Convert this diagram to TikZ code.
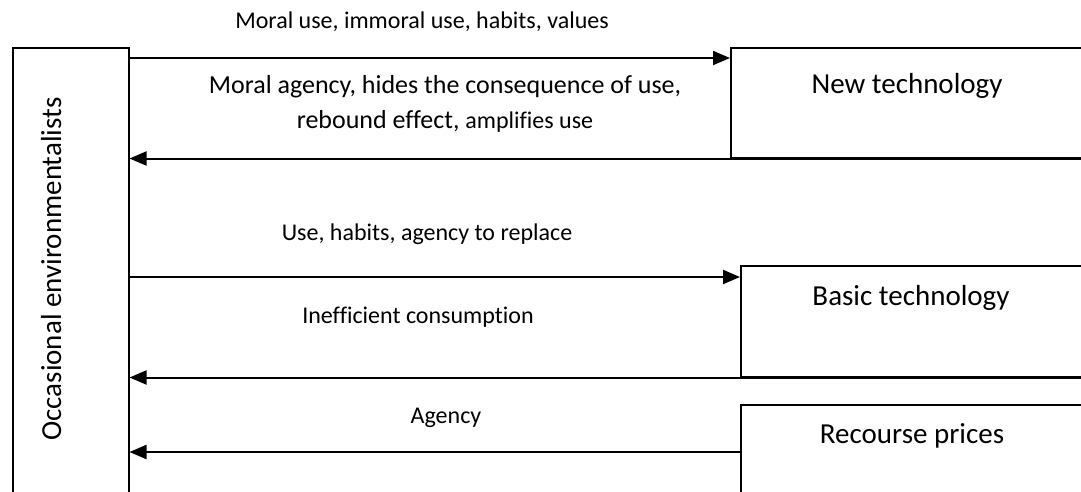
\documentclass[tikz,border=0pt]{standalone}
\usepackage{fontspec}
\setmainfont{Carlito}[Ligatures=NoCommon]
\usetikzlibrary{arrows.meta}

\begin{document}
\begin{tikzpicture}[x=1pt, y=-1pt,
        box/.style={rectangle, draw, line width=1.5pt, anchor=north west, inner sep=0pt},
        arrow/.style={-{Triangle[length=17pt, width=14pt]}, line width=2pt},
        small/.style={font=\fontsize{24}{28}\selectfont, inner sep=0pt, anchor=base},
        big/.style={font=\fontsize{26}{35}\selectfont, inner sep=0pt, anchor=base},
        boxtext/.style={font=\fontsize{29}{34}\selectfont, inner sep=0pt, anchor=base}
    ]
        \useasboundingbox (0,0) rectangle (1081,491);
        \clip (0,0) rectangle (1081,491);

        \node[box, minimum width=116pt, minimum height=500pt] (env) at (12,47) {};
        \node[boxtext, rotate=90] (envtext) at (61,269) {Occasional environmentalists};

        \node[box, minimum width=355pt, minimum height=110pt] (newtech) at (730,47) {};
        \node[box, minimum width=345pt, minimum height=111pt] (basic) at (740,265) {};
        \node[box, minimum width=345pt, minimum height=150pt] (prices) at (740,404) {};

        \node[boxtext] (newtechtext) at (907,93) {New technology};
        \node[boxtext] (basictext) at (911,305) {Basic technology};
        \node[boxtext] (pricestext) at (912,443) {Recourse prices};

        \draw[arrow] ([yshift=-11pt]env.north east) -- ([yshift=-11pt]newtech.north west);
        \draw[arrow] (newtech.south east) -- (newtech.south -| env.east);
        \draw[arrow] ([yshift=-12pt]basic.north -| env.east) -- ([yshift=-12pt]basic.north west);
        \draw[arrow] (basic.south east) -- (basic.south -| env.east);
        \draw[arrow] ([yshift=-48pt]prices.north west) -- ([yshift=-48pt]prices.north -| env.east);

        \node[small] (usevalues) at (422,28) {Moral use, immoral use, habits, values};
        \node[big] (agency1) at (445,93) {Moral agency, hides the consequence of use,};
        \node[big] (agency2) at (445,128) {rebound effect, {\fontsize{24}{28}\selectfont amplifies use}};
        \node[small] (replace) at (427,240) {Use, habits, agency to replace};
        \node[small] (inefficient) at (418,323) {Inefficient consumption};
        \node[small] (agency) at (446,423) {Agency};
    \end{tikzpicture}
\end{document}
